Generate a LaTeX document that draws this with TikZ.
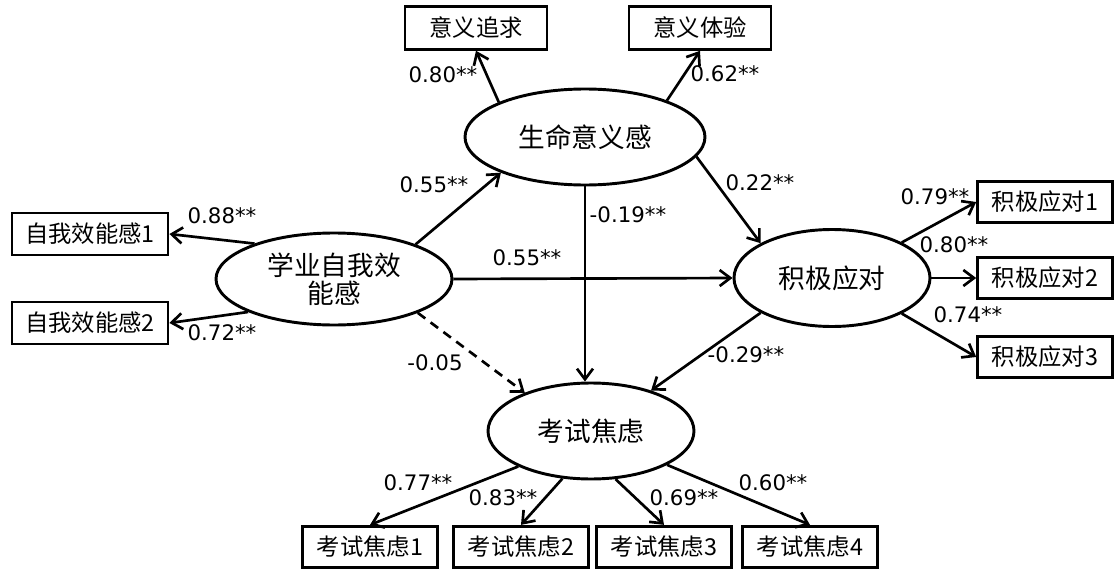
\documentclass[tikz,border=0pt]{standalone}
\usepackage{fontspec}
\setmainfont{DejaVu Sans}
\newfontfamily\cjk{Noto Sans CJK SC}
\usetikzlibrary{arrows.meta,shapes.geometric}
\begin{document}
\begin{tikzpicture}[x=0.75pt,y=-0.75pt,
  box/.style={draw, line width=2.2pt, inner sep=0pt, font=\cjk\fontsize{17.5}{20}\selectfont},
  lat/.style={draw, ellipse, line width=2.2pt, inner sep=0pt, align=center, font=\cjk\fontsize{20}{21}\selectfont},
  link/.style={line width=2pt, -{Straight Barb[length=8pt,width=12pt]}},
  lbl/.style={inner sep=0pt, font=\fontsize{16}{19}\selectfont}]
\useasboundingbox (0,0) rectangle (1115,571);
% latent variables
\node[lat, minimum width=177pt, minimum height=69pt] (xy) at (334,279) {学业自我效\\能感};
\node[lat, minimum width=180pt, minimum height=72pt] (sm) at (585,137) {生命意义感};
\node[lat, minimum width=147pt, minimum height=72.75pt] (jj) at (832,278) {积极应对};
\node[lat, minimum width=154.5pt, minimum height=72pt] (ks) at (591,431) {考试焦虑};
% indicators
\node[box, minimum width=106.5pt, minimum height=32pt] (yz) at (476,28) {意义追求};
\node[box, minimum width=106.5pt, minimum height=32pt] (yt) at (700,28) {意义体验};
\node[box, minimum width=117pt, minimum height=31.5pt] (zb1) at (90,234) {自我效能感1};
\node[box, minimum width=117pt, minimum height=31.5pt] (zb2) at (90,323) {自我效能感2};
\node[box, minimum width=101pt, minimum height=31pt] (jb1) at (1045,202) {积极应对1};
\node[box, minimum width=101pt, minimum height=31pt] (jb2) at (1045,278) {积极应对2};
\node[box, minimum width=101pt, minimum height=31pt] (jb3) at (1045,357) {积极应对3};
\node[box, minimum width=101pt, minimum height=31pt] (kb1) at (370,547) {考试焦虑1};
\node[box, minimum width=101pt, minimum height=31pt] (kb2) at (521,547) {考试焦虑2};
\node[box, minimum width=101pt, minimum height=31pt] (kb3) at (664,547) {考试焦虑3};
\node[box, minimum width=101pt, minimum height=31pt] (kb4) at (810,547) {考试焦虑4};
% structural paths
\draw[link] (xy.23.4) -- (sm.203);
\draw[link] (xy.east) -- (jj.west);
\draw[link, dash pattern=on 7pt off 5pt] (xy.-22.7) -- (ks.150.5);
\draw[link] (sm.-10.8) -- (jj.154);
\draw[link] (sm.south) -- (sm.south |- ks.north);
\draw[link] (jj.206) -- (ks.34.4);
% measurement paths
\draw[link] (sm.158) -- (yz.south);
\draw[link] (sm.24) -- (yt.south);
\draw[link] (xy.156.8) -- (zb1.east);
\draw[link] (xy.201.4) -- (zb2.east);
\draw[link] (jj.27.9) -- (jb1.west);
\draw[link] (jj.east) -- (jb2.west);
\draw[link] (jj.-27.2) -- (jb3.west);
\draw[link] (ks.206) -- (kb1.north);
\draw[link] (ks.239) -- (kb2.north);
\draw[link] (ks.-63) -- (kb3.north);
\draw[link] (ks.-24.4) -- (kb4.north);
% labels
\node[lbl] (l1) at (443,75) {0.80**};
\node[lbl] (l2) at (725,74) {0.62**};
\node[lbl] (l3) at (434,185) {0.55**};
\node[lbl] (l4) at (628,215) {-0.19**};
\node[lbl] (l5) at (760,183) {0.22**};
\node[lbl] (l6) at (527,258) {0.55**};
\node[lbl] (l7) at (435,363) {-0.05};
\node[lbl] (l8) at (746,355) {-0.29**};
\node[lbl] (l9) at (222,216) {0.88**};
\node[lbl] (l10) at (222,333) {0.72**};
\node[lbl] (l11) at (935,197) {0.79**};
\node[lbl] (l12) at (954,245) {0.80**};
\node[lbl] (l13) at (968,315) {0.74**};
\node[lbl] (l14) at (418,483) {0.77**};
\node[lbl] (l15) at (503,498) {0.83**};
\node[lbl] (l16) at (684,498) {0.69**};
\node[lbl] (l17) at (773,483) {0.60**};
\end{tikzpicture}
\end{document}
